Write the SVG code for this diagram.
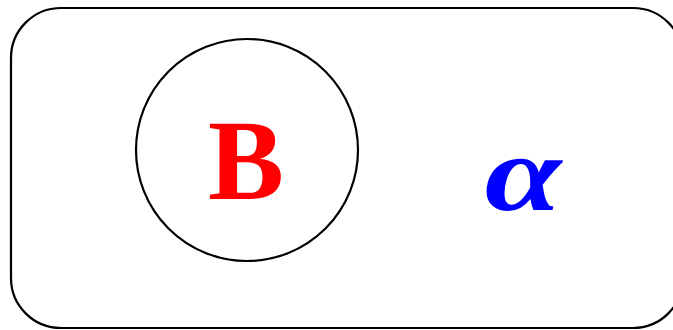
<svg xmlns="http://www.w3.org/2000/svg" width="673" height="330" viewBox="0 0 673 330">
<style>
.shape{fill:#fff;stroke:#000;stroke-width:2.2}
.lbl{font-family:"Liberation Serif","Times New Roman",serif;font-weight:bold;text-anchor:middle}
</style>
<rect width="673" height="330" fill="#fff"/>
<g id="frame"><rect class="shape" x="11" y="8" width="672" height="320" rx="50" ry="50"/></g>
<g id="connectors"></g>
<g id="nodeB"><circle class="shape" cx="247" cy="150" r="111"/><text class="lbl" x="246" y="199" font-size="114" fill="#f00">B</text></g>
<g id="nodeAlpha"><text class="lbl" transform="translate(523 0) scale(1.28 1)" x="0" y="210" font-size="108" font-style="italic" fill="#00f">α</text></g>
</svg>
